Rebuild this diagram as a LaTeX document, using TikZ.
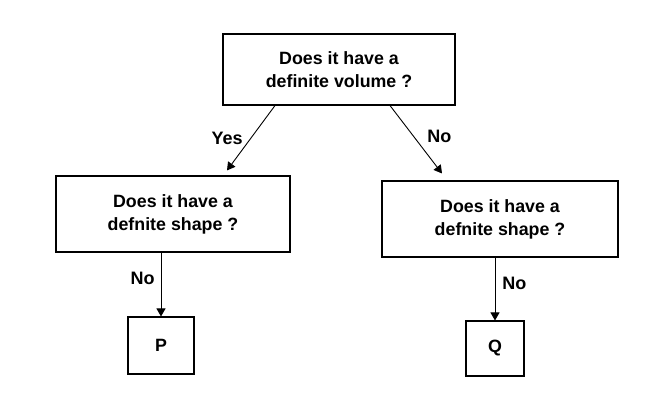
\documentclass[tikz,border=0pt]{standalone}
\usepackage{fontspec}
\setmainfont{Liberation Sans}
\usetikzlibrary{arrows.meta}

\tikzset{
  qbox/.style={draw, line width=1.1pt, align=center, inner sep=0pt},
  arr/.style={-{Triangle[length=8pt,width=9pt]}, line width=0.9pt},
  lbl/.style={font=\bfseries\fontsize{18}{20}\selectfont, inner sep=1pt}
}

\begin{document}
\begin{tikzpicture}[x=1pt, y=-1pt, font=\bfseries\fontsize{17.8}{23}\selectfont]
    \useasboundingbox (0, 0) rectangle (650, 403);

    % question boxes
    \node[qbox, minimum width=232pt, minimum height=71pt] (volume) at(339, 69.5){Does it have a\\definite volume ?};
    \node[qbox, minimum width=234pt, minimum height=76pt] (shapeL) at(173, 214){Does it have a\\defnite shape ?};
    \node[qbox, minimum width=236pt, minimum height=76pt] (shapeR) at(500, 219){Does it have a\\defnite shape ?};

    % answers
    \node[qbox, minimum width=66pt, minimum height=57pt] (P) at(161, 345.5){P};
    \node[qbox, minimum width=58pt, minimum height=55pt] (Q) at(495, 348.5){Q};

    \draw[arr]([xshift=-64pt]volume.south) -- node[lbl, left=7pt](yes){Yes} ([xshift=54pt, yshift=5pt]shapeL.north);
    \draw[arr]([xshift=51pt]volume.south) -- node[lbl, right=10pt, yshift=3pt](noR){No} ([xshift=-58pt, yshift=7pt]shapeR.north);
      \draw[arr](shapeL.south -| P.north) -- node[lbl, left=5pt, yshift=6pt](noP){No} (P.north);
      \draw[arr](shapeR.south -| Q.north) -- node[lbl, right=6pt, yshift=6pt](noQ){No} (Q.north);
  \end{tikzpicture}
\end{document}
